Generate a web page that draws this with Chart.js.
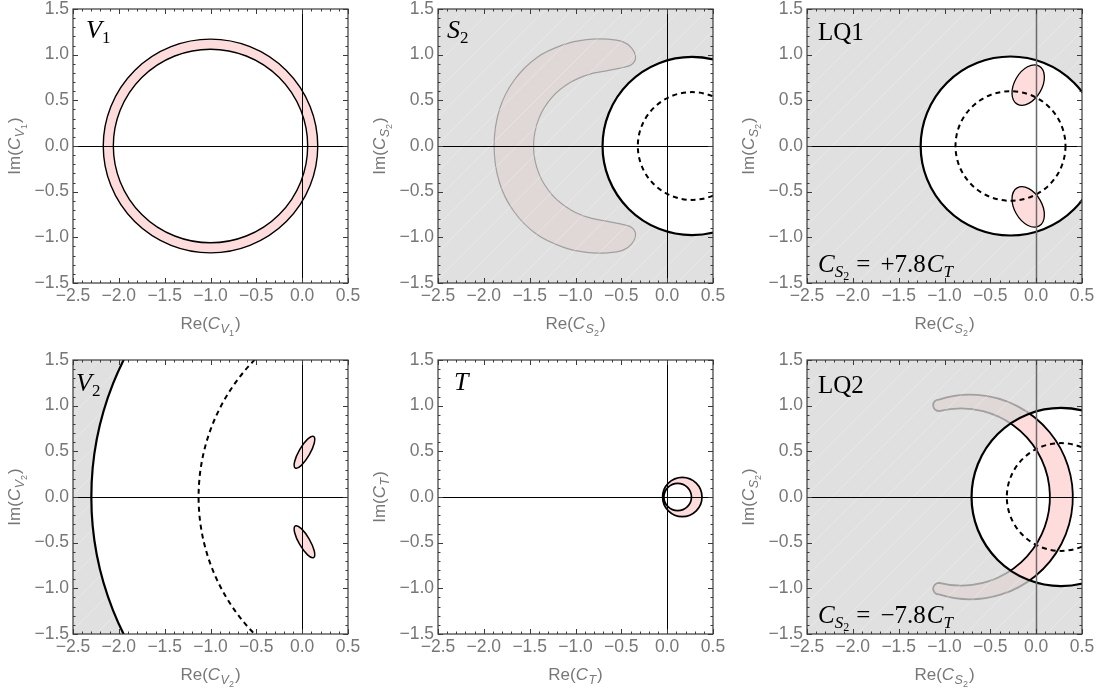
<!DOCTYPE html>
<html>
<head>
<meta charset="utf-8">
<script src="https://cdn.jsdelivr.net/npm/chart.js@4.4.1/dist/chart.umd.min.js"></script>
<style>
  body { margin: 0; background: #fff; width: 1101px; height: 693px; position: relative; overflow: hidden; }
  canvas { position: absolute; }
</style>
</head>
<body>
<script>
// axis ranges and tick labels (same for all six panels)
const xMin = -2.5, xMax = 0.5, yMin = -1.5, yMax = 1.5;
const xTickValues = [-2.5, -2.0, -1.5, -1.0, -0.5, 0.0, 0.5];
const xTickLabels = ['−2.5', '−2.0', '−1.5', '−1.0', '−0.5', '0.0', '0.5'];
const yTickValues = [-1.5, -1.0, -0.5, 0.0, 0.5, 1.0, 1.5];
const yTickLabels = ['−1.5', '−1.0', '−0.5', '0.0', '0.5', '1.0', '1.5'];

// panel names and axis subscripts
const panelKeys = ['V1', 'S2', 'LQ1', 'V2', 'T', 'LQ2'];
const axisSub = ['V', 'S', 'S', 'V', 'T', 'S'];
const axisSubSub = ['1', '2', '2', '2', '', '2'];

// V1: allowed ring  [cx, cy, r]
const v1Outer = [-1.0, 0.0, 1.17];
const v1Inner = [-1.0, 0.0, 1.06];

// S2: Bc circle (solid), dashed circle, allowed band (upper half outline, mirrored below)
const s2Bc = [0.27, 0.0, 0.975];
const s2Dash = [0.27, 0.0, 0.59];
const s2BandX = [-1.888, -1.830, -1.670, -1.420, -1.130, -0.880, -0.650, -0.480, -0.385, -0.345, -0.390, -0.480, -0.650, -0.850, -1.050, -1.250, -1.400, -1.458];
const s2BandY = [0.000, 0.400, 0.720, 0.970, 1.110, 1.165, 1.170, 1.140, 1.070, 0.965, 0.890, 0.860, 0.825, 0.785, 0.700, 0.540, 0.300, 0.000];

// LQ1: Bc circle, dashed circle, two allowed blobs [cx, cy, a, b, angle]
const lq1Bc = [-0.28, 0.0, 0.98];
const lq1Dash = [-0.28, 0.0, 0.60];
const lq1Blobs = [[-0.087, 0.667, 0.24, 0.15, 60], [-0.087, -0.667, 0.24, 0.15, -60]];

// V2
const v2Bc = [1.07, 0.0, 3.37];
const v2Dash = [1.02, 0.0, 2.15];
const v2Blobs = [[0.025, 0.49, 0.20, 0.06, 60], [0.025, -0.49, 0.20, 0.06, -60]];

// T: ring between two circles
const tOuter = [0.165, 0.0, 0.215];
const tInner = [0.115, 0.0, 0.15];

// LQ2: Bc circle, dashed circle, band = [outer cx, outer r, inner cx, inner r, tip x]
const lq2Bc = [0.27, 0.0, 0.975];
const lq2Dash = [0.27, 0.0, 0.59];
const lq2Band = [-0.72, 1.12, -0.82, 0.97, -1.06];

const PINK = '#ffdcdc';
const GREY_OVER = 'rgba(214,214,214,0.75)';
const TICK_COL = '#777';
const SANS = '"Liberation Sans", Arial, sans-serif';
const SERIF = '"Liberation Serif", "Times New Roman", serif';
const TICK_SIZE = 17.5;

function circlePath(ctx, X, Y, kx, ky, c) {
    ctx.moveTo(X(c[0]) + c[2] * kx, Y(c[1]));
    ctx.ellipse(X(c[0]), Y(c[1]), c[2] * kx, c[2] * ky, 0, 0, 2 * Math.PI);
}

function blobPath(ctx, X, Y, k, b) {
    const rot = -b[4] * Math.PI / 180;
    ctx.moveTo(X(b[0]) + b[2] * k * Math.cos(rot), Y(b[1]) + b[2] * k * Math.sin(rot));
    ctx.ellipse(X(b[0]), Y(b[1]), b[2] * k, b[3] * k, rot, 0, 2 * Math.PI);
}

function smoothClosed(ctx, pts) {
    const n = pts.length;
    ctx.moveTo(pts[0][0], pts[0][1]);
    for (let i = 0; i < n; i++) {
        const p0 = pts[(i - 1 + n) % n], p1 = pts[i], p2 = pts[(i + 1) % n], p3 = pts[(i + 2) % n];
        ctx.bezierCurveTo(p1[0] + (p2[0] - p0[0]) / 6, p1[1] + (p2[1] - p0[1]) / 6,
            p2[0] - (p3[0] - p1[0]) / 6, p2[1] - (p3[1] - p1[1]) / 6, p2[0], p2[1]);
    }
    ctx.closePath();
}

function fillStroke(ctx, rule, lw) {
    ctx.fillStyle = PINK;
    ctx.fill(rule || 'nonzero');
    ctx.strokeStyle = '#000';
    ctx.lineWidth = lw || 1.3;
    ctx.stroke();
}

// pink allowed regions per panel
const shapeDrawers = {
    V1(ctx, X, Y, kx, ky) {
        ctx.beginPath();
        circlePath(ctx, X, Y, kx, ky, v1Outer);
        circlePath(ctx, X, Y, kx, ky, v1Inner);
        fillStroke(ctx, 'evenodd', 1.4);
    },
    S2(ctx, X, Y) {
        const pts = [];
        for (let i = 0; i < s2BandX.length; i++) pts.push([X(s2BandX[i]), Y(s2BandY[i])]);
        for (let i = s2BandX.length - 2; i > 0; i--) pts.push([X(s2BandX[i]), Y(-s2BandY[i])]);
        ctx.beginPath();
        smoothClosed(ctx, pts);
        fillStroke(ctx, 'nonzero', 1.2);
    },
    LQ1(ctx, X, Y, kx, ky, k) {
        lq1Blobs.forEach(b => { ctx.beginPath(); blobPath(ctx, X, Y, k, b); fillStroke(ctx); });
    },
    V2(ctx, X, Y, kx, ky, k) {
        v2Blobs.forEach(b => { ctx.beginPath(); blobPath(ctx, X, Y, k, b); fillStroke(ctx, 'nonzero', 1.5); });
    },
    T(ctx, X, Y, kx, ky) {
        ctx.beginPath();
        circlePath(ctx, X, Y, kx, ky, tOuter);
        circlePath(ctx, X, Y, kx, ky, tInner);
        fillStroke(ctx, 'evenodd', 1.7);
    },
    LQ2(ctx, X, Y, kx, ky) {
        const [co, ro, ci, ri, tip] = lq2Band;
        const fo = Math.acos((tip - co) / ro), fi = Math.acos((tip - ci) / ri);
        const yo = ro * Math.sin(fo), yi = ri * Math.sin(fi);
        const rc = (yo - yi) / 2, yc = (yo + yi) / 2;
        ctx.beginPath();
        ctx.ellipse(X(co), Y(0), ro * kx, ro * ky, 0, -fo, fo, false);
        ctx.ellipse(X(tip), Y(-yc), rc * kx, rc * ky, 0, Math.PI / 2, 3 * Math.PI / 2, false);
        ctx.ellipse(X(ci), Y(0), ri * kx, ri * ky, 0, fi, -fi, true);
        ctx.ellipse(X(tip), Y(yc), rc * kx, rc * ky, 0, Math.PI / 2, 3 * Math.PI / 2, false);
        ctx.closePath();
        fillStroke(ctx, 'nonzero', 1.8);
    }
};

const panels = [
    { key: 'V1', left: 0, top: 0, h: 345, padTop: 9, bc: null, dash: null, title: [['V', 'i', 26], ['1', 'n', 17, 5]], tx: 13, ty: 29 },
    { key: 'S2', left: 365, top: 0, h: 345, padTop: 9, bc: s2Bc, dash: s2Dash, title: [['S', 'i', 26], ['2', 'n', 17, 5]], tx: 9, ty: 29 },
    { key: 'LQ1', left: 734, top: 0, h: 345, padTop: 9, bc: lq1Bc, dash: lq1Dash, title: [['LQ1', 'n', 25]], tx: 11, ty: 31, rel: '+7.8', vgrey: true },
    { key: 'V2', left: 0, top: 345, h: 348, padTop: 15, bc: v2Bc, dash: v2Dash, title: [['V', 'i', 26], ['2', 'n', 17, 5]], tx: 3, ty: 31 },
    { key: 'T', left: 365, top: 345, h: 348, padTop: 15, bc: null, dash: null, title: [['T', 'i', 26]], tx: 16, ty: 30 },
    { key: 'LQ2', left: 734, top: 345, h: 348, padTop: 15, bc: lq2Bc, dash: lq2Dash, title: [['LQ2', 'n', 25]], tx: 11, ty: 33, rel: '−7.8', vgrey: true }
];

function richText(ctx, segs, x, y, align) {
    let w = 0;
    segs.forEach(s => { ctx.font = s[1]; w += ctx.measureText(s[0]).width + (s[3] || 0); });
    let cx = align === 'center' ? x - w / 2 : x;
    segs.forEach(s => {
        ctx.font = s[1];
        ctx.fillText(s[0], cx, y + (s[2] || 0));
        cx += ctx.measureText(s[0]).width + (s[3] || 0);
    });
}

function axisTitle(prefix, i) {
    const segs = [[prefix + '(', '17px ' + SANS], ['C', 'italic 17px ' + SANS, 0, 0.5], [axisSub[i], 'italic 12.5px ' + SANS, 3.5]];
    if (axisSubSub[i]) segs.push([axisSubSub[i], '9px ' + SANS, 7, 1]);
    else segs[2][3] = 1;
    segs.push([')', '17px ' + SANS]);
    return segs;
}

function panelPlugin(p, idx) {
    return {
        id: 'panel' + p.key,
        beforeDatasetsDraw(chart) {
            const ctx = chart.ctx, a = chart.chartArea;
            const sx = chart.scales.x, sy = chart.scales.y;
            const X = v => sx.getPixelForValue(v), Y = v => sy.getPixelForValue(v);
            const kx = X(1) - X(0), ky = Y(0) - Y(1), k = (kx + ky) / 2;

            ctx.save();
            ctx.beginPath();
            ctx.rect(a.left, a.top, a.width, a.height);
            ctx.clip();
            ctx.fillStyle = '#fff';
            ctx.fillRect(a.left, a.top, a.width, a.height);

            shapeDrawers[p.key](ctx, X, Y, kx, ky, k);

            // excluded (grey) region outside the Bc circle
            if (p.bc) {
                ctx.save();
                ctx.beginPath();
                ctx.rect(a.left, a.top, a.width, a.height);
                circlePath(ctx, X, Y, kx, ky, p.bc);
                ctx.fillStyle = GREY_OVER;
                ctx.fill('evenodd');
                ctx.clip('evenodd');
                ctx.strokeStyle = 'rgba(255,255,255,0.35)';
                ctx.lineWidth = 0.8;
                ctx.beginPath();
                for (let d = -a.height; d < a.width; d += 27) {
                    ctx.moveTo(a.left + d, a.bottom);
                    ctx.lineTo(a.left + d + a.height, a.top);
                }
                ctx.stroke();
                ctx.restore();

                ctx.beginPath();
                circlePath(ctx, X, Y, kx, ky, p.bc);
                ctx.strokeStyle = '#000';
                ctx.lineWidth = 2.2;
                ctx.stroke();
            }
            if (p.dash) {
                ctx.beginPath();
                circlePath(ctx, X, Y, kx, ky, p.dash);
                ctx.setLineDash([5, 4]);
                ctx.strokeStyle = '#000';
                ctx.lineWidth = 2;
                ctx.stroke();
                ctx.setLineDash([]);
            }

            // zero axes
            ctx.lineWidth = 1;
            ctx.strokeStyle = '#000';
            ctx.beginPath();
            ctx.moveTo(a.left, Math.round(Y(0)) + 0.5);
            ctx.lineTo(a.right, Math.round(Y(0)) + 0.5);
            ctx.stroke();
            ctx.strokeStyle = p.vgrey ? '#6a6a6a' : '#000';
            ctx.lineWidth = p.vgrey ? 1.5 : 1;
            ctx.beginPath();
            ctx.moveTo(Math.round(X(0)) + 0.5, a.top);
            ctx.lineTo(Math.round(X(0)) + 0.5, a.bottom);
            ctx.stroke();
            ctx.restore();

            // frame with inward ticks
            ctx.save();
            ctx.strokeStyle = '#3a3a3a';
            ctx.lineWidth = 1.2;
            ctx.strokeRect(a.left, a.top, a.width, a.height);
            ctx.lineWidth = 1;
            ctx.beginPath();
            for (let i = 0; i <= 30; i++) {
                const len = i % 5 === 0 ? 5 : 2.5;
                const x = Math.round(X(xMin + i * 0.1)) + 0.5;
                ctx.moveTo(x, a.bottom); ctx.lineTo(x, a.bottom - len);
                ctx.moveTo(x, a.top); ctx.lineTo(x, a.top + len);
                const y = Math.round(Y(yMin + i * 0.1)) + 0.5;
                ctx.moveTo(a.left, y); ctx.lineTo(a.left + len, y);
                ctx.moveTo(a.right, y); ctx.lineTo(a.right - len, y);
            }
            ctx.stroke();
            ctx.restore();
        },
        afterDraw(chart) {
            const ctx = chart.ctx, a = chart.chartArea;
            ctx.save();
            ctx.fillStyle = TICK_COL;
            ctx.textBaseline = 'alphabetic';
            richText(ctx, axisTitle('Re', idx), (a.left + a.right) / 2, a.bottom + 46, 'center');
            ctx.save();
            ctx.translate(a.left - 53, (a.top + a.bottom) / 2);
            ctx.rotate(-Math.PI / 2);
            richText(ctx, axisTitle('Im', idx), 0, 0, 'center');
            ctx.restore();

            ctx.fillStyle = '#000';
            const segs = p.title.map(t => [t[0], (t[1] === 'i' ? 'italic ' : '') + t[2] + 'px ' + SERIF, t[3] || 0]);
            richText(ctx, segs, a.left + p.tx, a.top + p.ty, 'left');
            if (p.rel) {
                richText(ctx, [
                    ['C', 'italic 25px ' + SERIF, 0, 0],
                    ['S', 'italic 17px ' + SERIF, 5],
                    ['2', '12px ' + SERIF, 8, 7],
                    ['= ', '25px ' + SERIF, 0, 4],
                    [p.rel, '25px ' + SERIF, 0, 1],
                    ['C', 'italic 25px ' + SERIF],
                    ['T', 'italic 17px ' + SERIF, 5]
                ], a.left + 11, a.bottom - 11, 'left');
            }
            ctx.restore();
        }
    };
}

function fmtTick(v, vals, labels) {
    for (let j = 0; j < vals.length; j++) if (Math.abs(vals[j] - v) < 1e-6) return labels[j];
    return '';
}

panels.forEach((p, idx) => {
    const canvas = document.createElement('canvas');
    canvas.width = 367;
    canvas.height = p.h;
    canvas.style.left = p.left + 'px';
    canvas.style.top = p.top + 'px';
    canvas.style.width = '367px';
    canvas.style.height = p.h + 'px';
    document.body.appendChild(canvas);
    const xH = p.h - p.padTop - 274;

    new Chart(canvas, {
        type: 'scatter',
        data: { datasets: [] },
        options: {
            responsive: false,
            animation: false,
            devicePixelRatio: 1,
            layout: { padding: { top: p.padTop, right: 19, left: 0, bottom: 0 } },
            plugins: { legend: { display: false }, tooltip: { enabled: false } },
            scales: {
                x: {
                    type: 'linear', min: xMin, max: xMax,
                    afterFit: s => { s.height = xH; s.paddingLeft = 0; s.paddingRight = 0; },
                    grid: { drawOnChartArea: false, drawTicks: false },
                    border: { display: false },
                    ticks: {
                        stepSize: 0.5, autoSkip: false, maxRotation: 0, padding: 3,
                        color: TICK_COL, font: { family: SANS, size: TICK_SIZE },
                        callback: v => fmtTick(v, xTickValues, xTickLabels)
                    }
                },
                y: {
                    type: 'linear', min: yMin, max: yMax,
                    afterFit: s => { s.width = 73; s.paddingTop = 0; s.paddingBottom = 0; },
                    grid: { drawOnChartArea: false, drawTicks: false },
                    border: { display: false },
                    ticks: {
                        stepSize: 0.5, autoSkip: false, padding: 4,
                        color: TICK_COL, font: { family: SANS, size: TICK_SIZE },
                        callback: v => fmtTick(v, yTickValues, yTickLabels)
                    }
                }
            }
        },
        plugins: [panelPlugin(p, idx)]
    });
});
</script>
</body>
</html>
